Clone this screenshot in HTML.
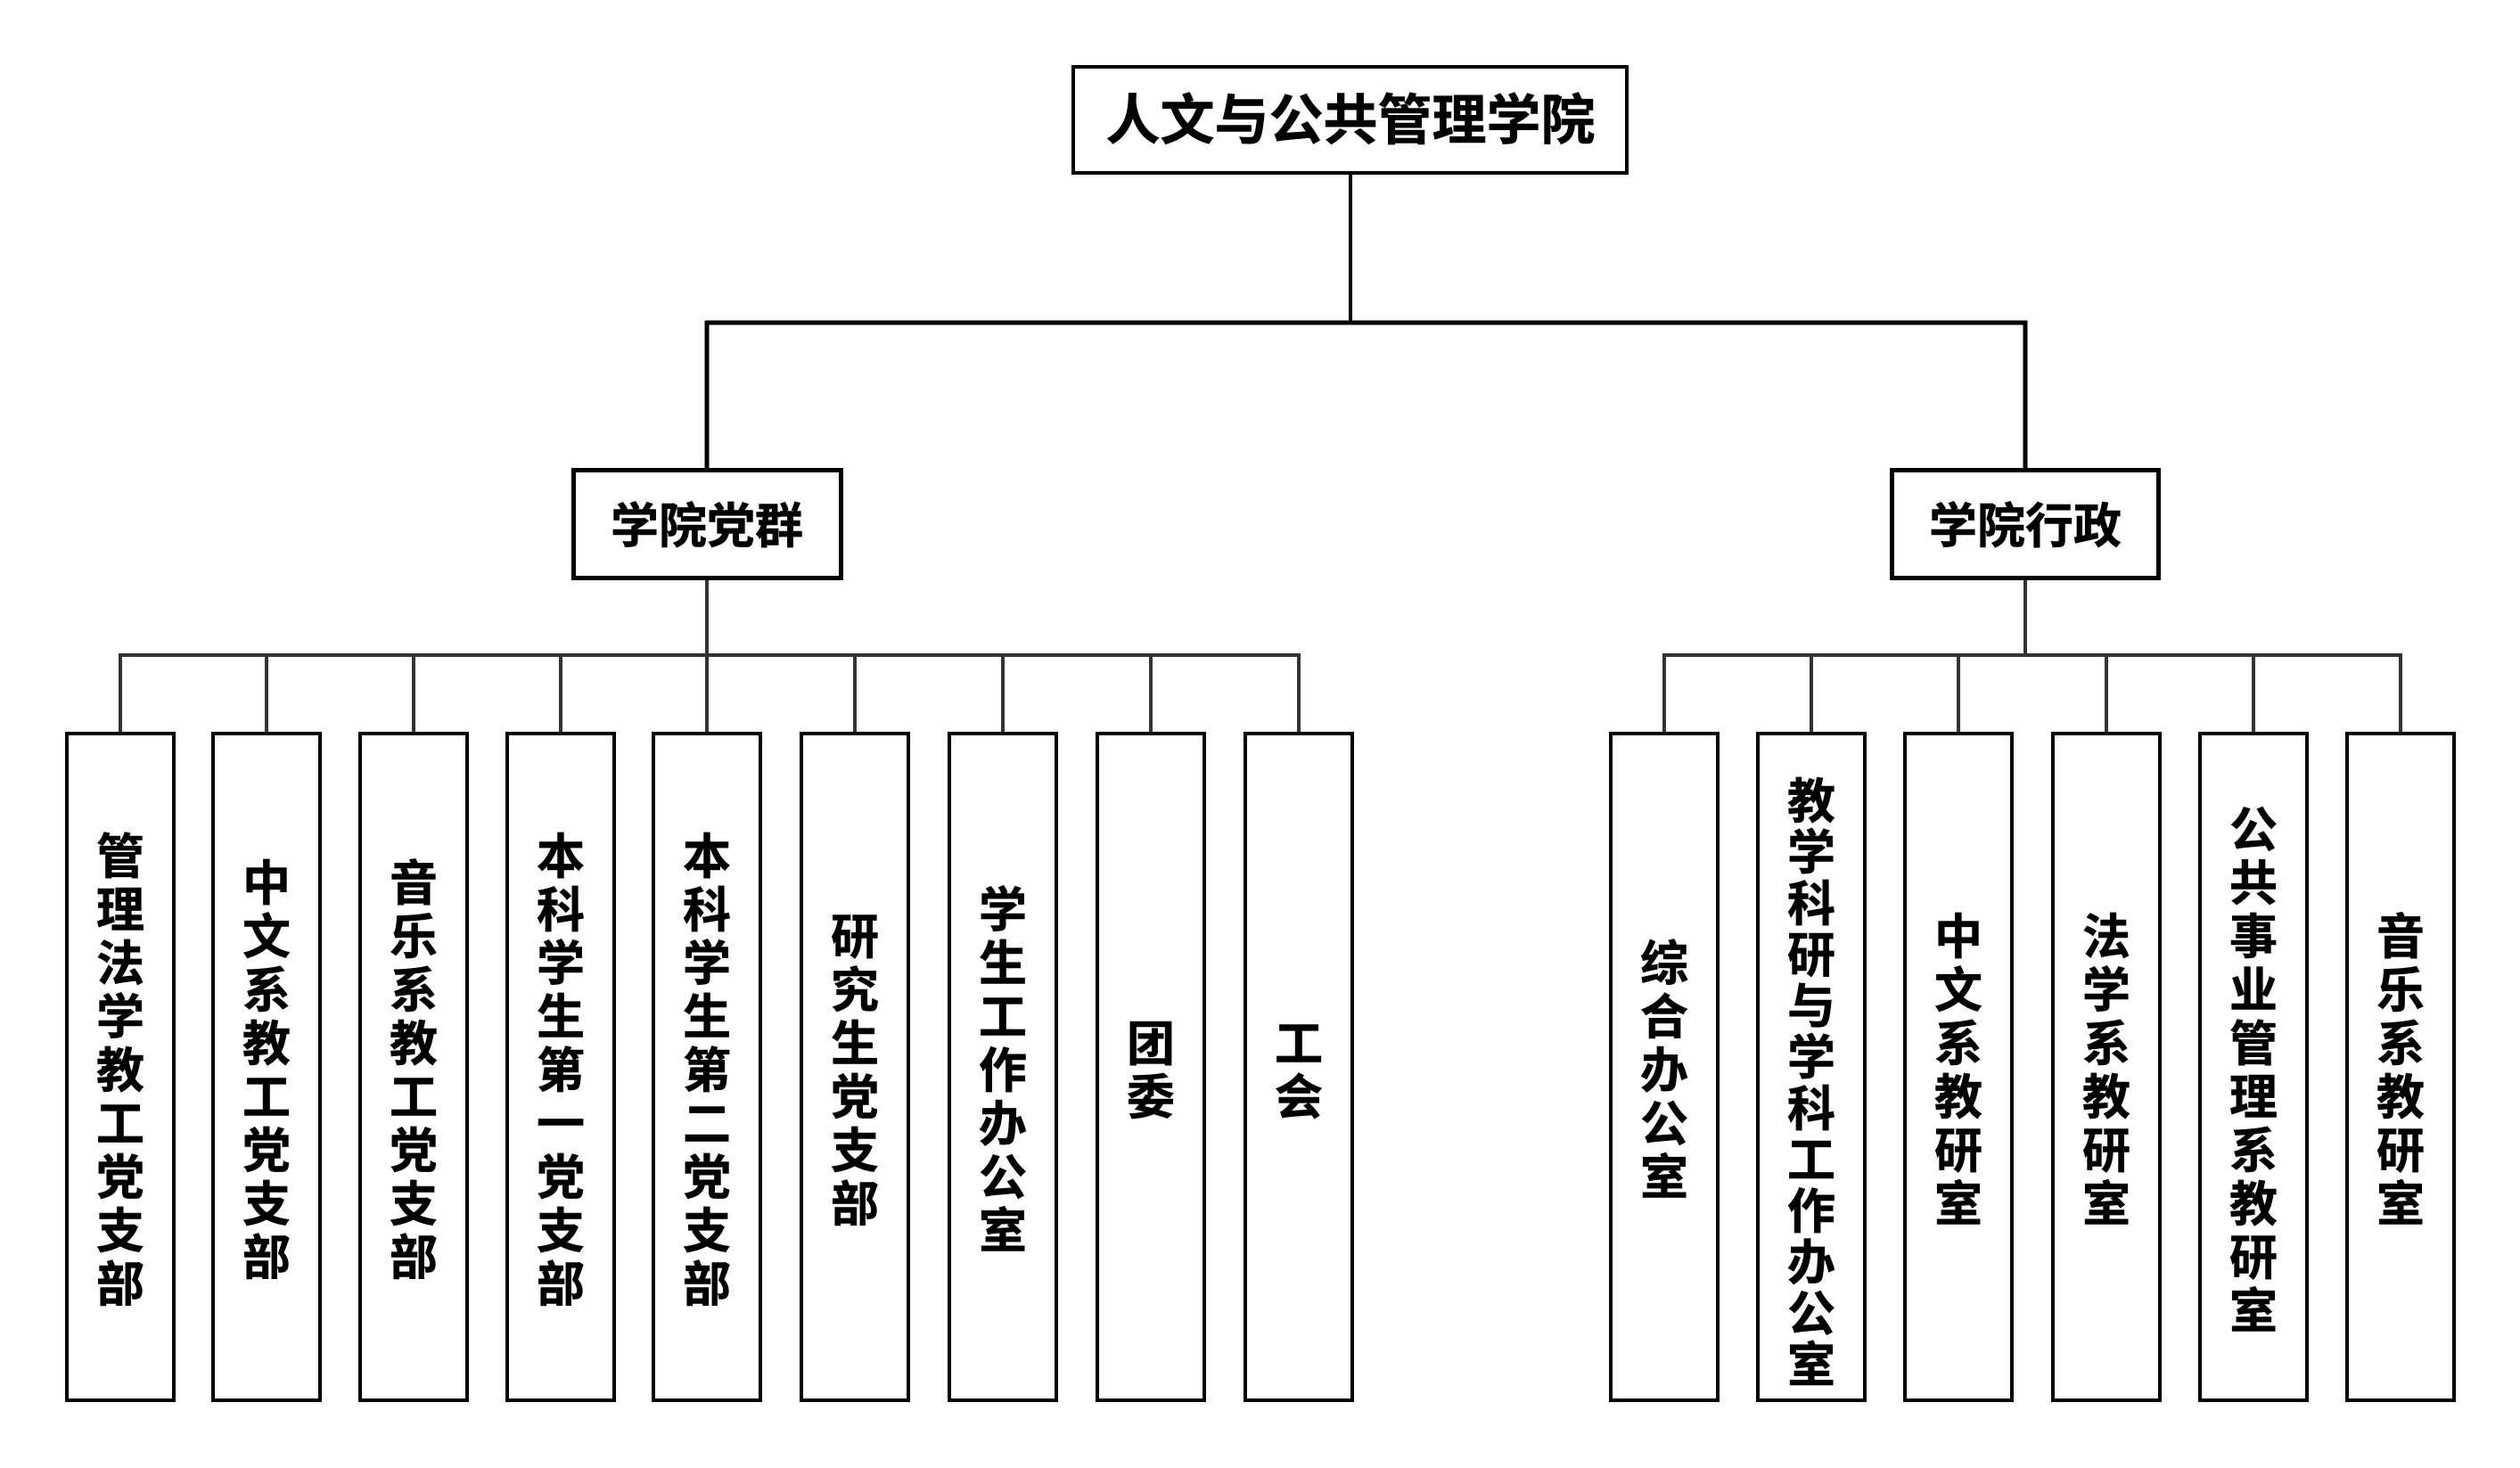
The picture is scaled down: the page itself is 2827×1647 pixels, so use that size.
<!DOCTYPE html>
<html><head><meta charset="utf-8"><style>
html,body{margin:0;padding:0;background:#fff;}
svg{display:block;}
text{font-family:"Liberation Sans","Noto Sans CJK SC",sans-serif;font-weight:700;fill:#000;stroke:#000;stroke-width:0.6;}
</style></head><body>
<svg width="2827" height="1647" viewBox="0 0 2827 1647" xmlns="http://www.w3.org/2000/svg">
<g stroke="#000" fill="none">
<rect x="1204" y="75" width="621" height="119" stroke-width="4"/>
<line x1="1515" y1="194" x2="1515" y2="362" stroke-width="4"/>
<line x1="791" y1="362" x2="2274.5" y2="362" stroke-width="5"/>
<line x1="793" y1="360" x2="793" y2="528" stroke-width="5"/>
<line x1="2272" y1="360" x2="2272" y2="528" stroke-width="5"/>
<rect x="643.5" y="527.5" width="300" height="121" stroke-width="5"/>
<rect x="2122.5" y="527.5" width="299" height="121" stroke-width="5"/>
</g>
<g stroke="#333" fill="none" stroke-width="4">
<line x1="793" y1="651" x2="793" y2="735"/>
<line x1="2272" y1="651" x2="2272" y2="735"/>
<line x1="133" y1="735" x2="1459" y2="735"/>
<line x1="1865" y1="735" x2="2695" y2="735"/>
</g>
<text x="1515" y="156" font-size="61" text-anchor="middle">人文与公共管理学院</text>
<text x="793" y="609" font-size="54" text-anchor="middle">学院党群</text>
<text x="2272" y="609" font-size="54" text-anchor="middle">学院行政</text>
<g id="leaves"></g>
</svg>
<script>
var data=[[135,"管理法学教工党支部"],[299,"中文系教工党支部"],[464,"音乐系教工党支部"],[629,"本科学生第一党支部"],[793,"本科学生第二党支部"],[959,"研究生党支部"],[1125,"学生工作办公室"],[1291,"团委"],[1457,"工会"],
[1867,"综合办公室"],[2032,"教学科研与学科工作办公室"],[2197,"中文系教研室"],[2363,"法学系教研室"],[2528,"公共事业管理系教研室"],[2693,"音乐系教研室"]];
var g=document.getElementById("leaves"),h="";
data.forEach(function(d){
 var c=d[0],s=d[1],n=s.length,pitch=n>10?57.5:60,ctr=n>10?1214:1200;
 h+='<line x1="'+c+'" y1="735" x2="'+c+'" y2="823" stroke="#333" stroke-width="4"/>';
 h+='<rect x="'+(c-60)+'" y="823" width="120" height="748" fill="none" stroke="#000" stroke-width="4"/>';
 var top=ctr-((n-1)*pitch+52)/2;
 for(var i=0;i<n;i++){
  h+='<text x="'+c+'" y="'+(top+i*pitch+46)+'" font-size="54" text-anchor="middle">'+s[i]+'</text>';
 }
});
g.innerHTML=h;
</script>
</body></html>
